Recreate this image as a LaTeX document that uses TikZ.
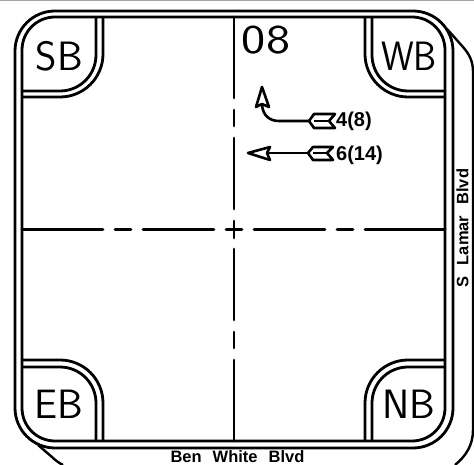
\documentclass[tikz,border=0pt]{standalone}
\usepackage{fontspec}
\usepackage{tikz}
\newfontfamily\boldlabel{Liberation Sans Bold}

\tikzset{
    curbline/.style={line width=2.8pt,black},
    centerline/.style={line width=2.8pt,black,line cap=round},
    arrowline/.style={line width=2.6pt,black,line join=round},
    approach/.style={font=\sffamily\fontsize{41}{41}\selectfont,inner sep=0pt},
    roadname/.style={font=\boldlabel\fontsize{16.5}{16.5}\selectfont,inner sep=0pt},
    volume/.style={font=\boldlabel\fontsize{20}{20}\selectfont,inner sep=0pt,anchor=west}
}

\begin{document}
\begin{tikzpicture}[x=1pt,y=-1pt]
    \useasboundingbox (0,0) rectangle (474,465);
    \draw[gray!70,line width=1pt] (0,0.5) -- (474,0.5);

    % Curb lines
    \draw[curbline,rounded corners=40] (15,11) rectangle (453,448);
    \draw[curbline,rounded corners=33] (22,17) rectangle (445,441);

    % Corner islands
    \draw[curbline,rounded corners=36] (22,91) -| (96,17);
    \draw[curbline,rounded corners=43] (22,97) -| (103,17);
    \draw[curbline,rounded corners=36] (445,91) -| (372,17);
    \draw[curbline,rounded corners=43] (445,97) -| (365,17);
    \draw[curbline,rounded corners=36] (22,367) -| (96,441);
    \draw[curbline,rounded corners=43] (22,360) -| (103,441);
    \draw[curbline,rounded corners=36] (445,367) -| (372,441);
    \draw[curbline,rounded corners=43] (445,360) -| (365,441);

    % Outer edge of road
    \draw[line width=2.4pt] (447,29) -- (463,47) .. controls (470,55) and (473,62) .. (473,72)
        -- (473,430) .. controls (473,445) and (466,456) .. (455,465);
    \draw[line width=2.4pt] (38,445) -- (52,457) .. controls (55,460) and (59,463) .. (63,465);

    % Horizontal center line
    \draw[centerline] (22,229.5) -- (103,229.5);
    \draw[centerline] (115,229.5) -- (131,229.5);
    \draw[centerline] (143,229.5) -- (214,229.5);
    \draw[centerline] (226,229.5) -- (242,229.5);
    \draw[centerline] (254,229.5) -- (325,229.5);
    \draw[centerline] (337,229.5) -- (353,229.5);
    \draw[centerline] (365,229.5) -- (445,229.5);

    % Vertical center line
    \draw[centerline] (234,17) -- (234,98);
    \draw[centerline] (234,110) -- (234,126);
    \draw[centerline] (234,138) -- (234,209);
    \draw[centerline] (234,221) -- (234,238);
    \draw[centerline] (234,249) -- (234,320);
    \draw[centerline] (234,332) -- (234,348);
    \draw[centerline] (234,360) -- (234,441);

    % Approach labels
    \node[approach] (sb) at (59.5,56) {SB};
    \node[approach,xscale=0.9] (wb) at (409,56) {WB};
    \node[approach] (eb) at (59,404) {EB};
    \node[approach] (nb) at (409,404) {NB};
    \node[approach,xscale=1.25] (phase) at (266,40) {08};

    % Movement arrows
    \draw[arrowline] (309,121) -- (279,121) .. controls (270,121) and (263,116) .. (262,105);
    \draw[arrowline] (262,87) -- (256,107) -- (262,104) -- (269,107) -- cycle;
    \draw[arrowline] (309,121) -- (314,114) -- (335,114) -- (329,121) -- (335,128) -- (314,128) -- cycle;
    \draw[arrowline] (314,121) -- (329,121);
    \draw[arrowline] (309,153) -- (268,153);
    \draw[arrowline] (248,153) -- (270,147) -- (267,153) -- (270,160) -- cycle;
    \draw[arrowline] (308,153) -- (313,147) -- (333,147) -- (327,153) -- (333,160) -- (313,160) -- cycle;
    \draw[arrowline] (313,153) -- (327,153);
    \node[volume] (thru) at (336,121) {4(8)};
    \node[volume] (left) at (336,155) {6(14)};

    % Road names
    \node[roadname] (benwhite) at (237.5,457) {Ben\hspace{11pt}White\hspace{11pt}Blvd};
    \node[roadname,rotate=90] (lamar) at (462.5,228) {S\hspace{11pt}Lamar\hspace{11pt}Blvd};
\end{tikzpicture}
\end{document}
